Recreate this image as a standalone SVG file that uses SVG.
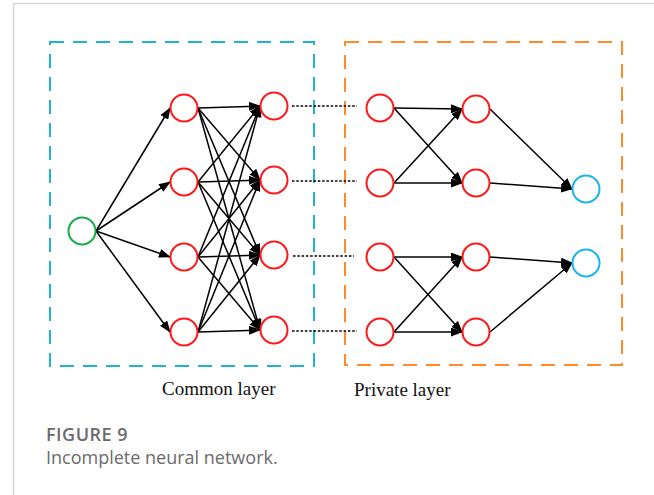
<svg xmlns="http://www.w3.org/2000/svg" width="654" height="495" viewBox="0 0 654 495">
<style>
.n{fill:#fff;stroke-width:2}
.r{stroke:#ff1a1a}
.g{stroke:#1aaa4a}
.b{stroke:#1ab4ee}
.e{stroke:#000;stroke-width:1.5;fill:none;marker-end:url(#ah)}
.d{stroke:#000;stroke-width:1.6;stroke-dasharray:2.5 1.8;fill:none}
.lab{font-family:"Liberation Serif",serif;font-size:19px;fill:#111}
.cap{font-family:"Open Sans",sans-serif;fill:#6b6b6b}
</style>
<defs>
<marker id="ah" markerUnits="userSpaceOnUse" markerWidth="12" markerHeight="9" refX="11" refY="4.5" orient="auto">
<path d="M0,0 L12,4.5 L0,9 z" fill="#000"/>
</marker>
</defs>
<rect width="654" height="495" fill="#fff"/>
<path d="M13.5,495 V3.5 H654" fill="none" stroke="#d8d8d8" stroke-width="1.5"/>
<rect id="common-box" x="50" y="42" width="264" height="324" fill="none" stroke="#1fb3d1" stroke-width="2" stroke-dasharray="14 9"/>
<rect id="private-box" x="345" y="42" width="277" height="323" fill="none" stroke="#ff8a2a" stroke-width="2" stroke-dasharray="14 9"/>
<g id="connectors">
<path class="e" d="M96,231 L170,108"/>
<path class="e" d="M96,231 L170,182"/>
<path class="e" d="M96,231 L170,257"/>
<path class="e" d="M96,231 L170,332"/>
<path class="e" d="M198,108 L260,106"/>
<path class="e" d="M198,108 L260,180"/>
<path class="e" d="M198,108 L260,255"/>
<path class="e" d="M198,108 L260,330"/>
<path class="e" d="M198,182 L260,106"/>
<path class="e" d="M198,182 L260,180"/>
<path class="e" d="M198,182 L260,255"/>
<path class="e" d="M198,182 L260,330"/>
<path class="e" d="M198,257 L260,106"/>
<path class="e" d="M198,257 L260,180"/>
<path class="e" d="M198,257 L260,255"/>
<path class="e" d="M198,257 L260,330"/>
<path class="e" d="M198,332 L260,106"/>
<path class="e" d="M198,332 L260,180"/>
<path class="e" d="M198,332 L260,255"/>
<path class="e" d="M198,332 L260,330"/>
<path class="d" d="M292,106 H357"/>
<path class="d" d="M292,181 H357"/>
<path class="d" d="M293,256 H354"/>
<path class="d" d="M292,331 H357"/>
<path class="e" d="M394,108 L462,109"/>
<path class="e" d="M394,108 L462,183"/>
<path class="e" d="M394,183 L462,109"/>
<path class="e" d="M394,183 L462,183"/>
<path class="e" d="M394,257 L462,257"/>
<path class="e" d="M394,257 L462,332"/>
<path class="e" d="M394,332 L462,257"/>
<path class="e" d="M394,332 L462,332"/>
<path class="e" d="M490,109 L572,189"/>
<path class="e" d="M490,183 L572,189"/>
<path class="e" d="M490,257 L572,263"/>
<path class="e" d="M490,332 L572,263"/>
</g>
<g id="input"><circle class="n g" cx="82" cy="231" r="13.5"/></g>
<g id="h1-1"><circle class="n r" cx="184" cy="108" r="13.5"/></g>
<g id="h1-2"><circle class="n r" cx="184" cy="182" r="13.5"/></g>
<g id="h1-3"><circle class="n r" cx="184" cy="257" r="13.5"/></g>
<g id="h1-4"><circle class="n r" cx="184" cy="332" r="13.5"/></g>
<g id="h2-1"><circle class="n r" cx="274" cy="106" r="13.5"/></g>
<g id="h2-2"><circle class="n r" cx="274" cy="180" r="13.5"/></g>
<g id="h2-3"><circle class="n r" cx="274" cy="255" r="13.5"/></g>
<g id="h2-4"><circle class="n r" cx="274" cy="330" r="13.5"/></g>
<g id="p1-1"><circle class="n r" cx="380" cy="108" r="13.5"/></g>
<g id="p1-2"><circle class="n r" cx="380" cy="183" r="13.5"/></g>
<g id="p1-3"><circle class="n r" cx="380" cy="257" r="13.5"/></g>
<g id="p1-4"><circle class="n r" cx="380" cy="332" r="13.5"/></g>
<g id="p2-1"><circle class="n r" cx="476" cy="109" r="13.5"/></g>
<g id="p2-2"><circle class="n r" cx="476" cy="183" r="13.5"/></g>
<g id="p2-3"><circle class="n r" cx="476" cy="257" r="13.5"/></g>
<g id="p2-4"><circle class="n r" cx="476" cy="332" r="13.5"/></g>
<g id="out-1"><circle class="n b" cx="586" cy="189" r="13.5"/></g>
<g id="out-2"><circle class="n b" cx="586" cy="263" r="13.5"/></g>
<text class="lab" x="162" y="395">Common layer</text>
<text class="lab" x="354" y="396">Private layer</text>
<text class="cap" x="46" y="441" font-size="18" font-weight="600" letter-spacing="0.5">FIGURE 9</text>
<text class="cap" x="46" y="464" font-size="18">Incomplete neural network.</text>
</svg>
